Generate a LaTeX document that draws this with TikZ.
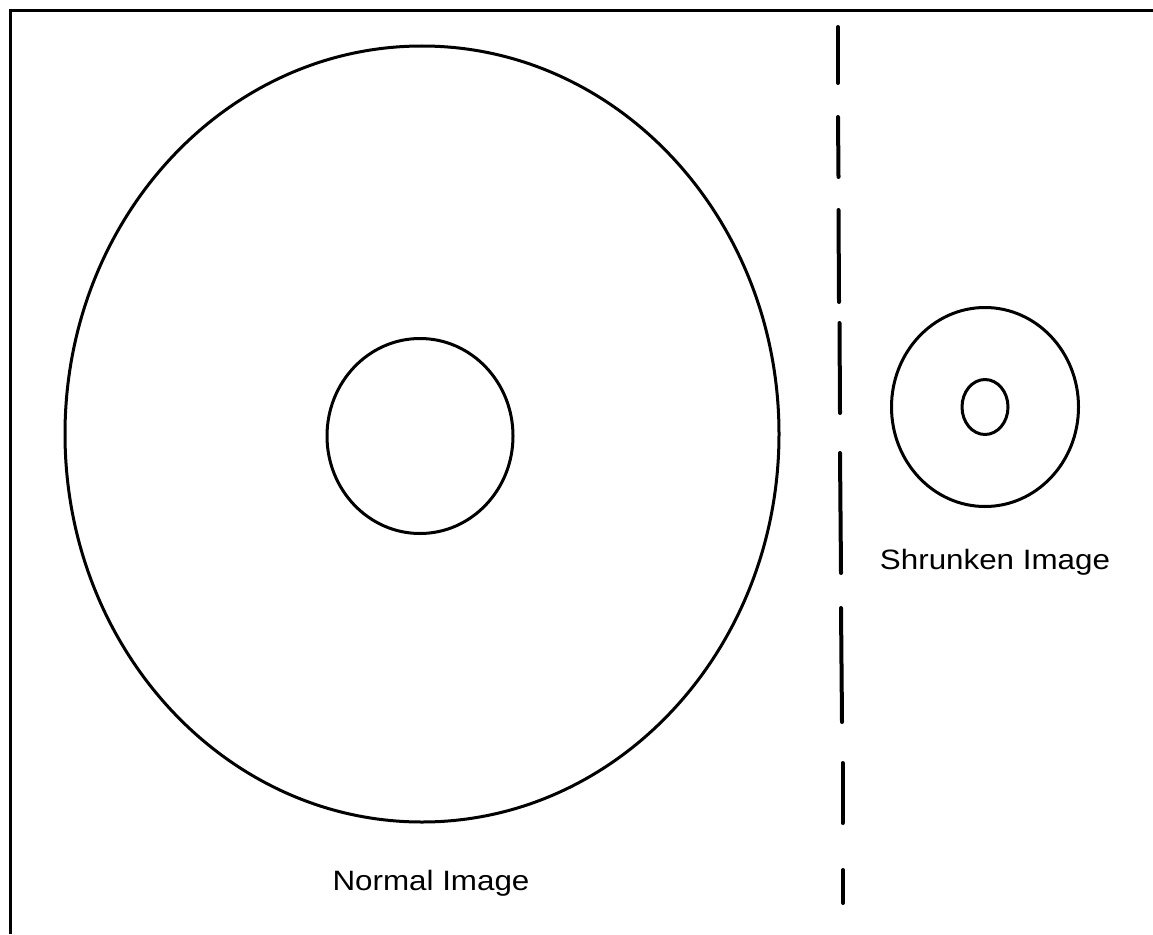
\documentclass[tikz,border=0pt]{standalone}
\usepackage{fontspec}
\setmainfont{Liberation Sans}
\newfontfamily\lblfont[FakeStretch=1.12]{Liberation Sans}
\usetikzlibrary{shapes.geometric}
\tikzset{
  ring/.style={draw, ellipse, inner sep=0pt, line width=3pt},
  frameline/.style={line width=3pt},
  dashseg/.style={line width=4pt, line cap=round},
  lbl/.style={font=\lblfont\fontsize{28}{30}\selectfont, inner sep=0pt}
}
\begin{document}
\begin{tikzpicture}[x=1pt,y=-1pt]
\useasboundingbox (0,0) rectangle (1153,934);
% frame (left and top only)
\draw[frameline] (10,934) -- (10,11) -- (1153,11);
% big image
\node[ring, minimum width=714pt, minimum height=776pt] (bigout) at (422,434) {};
\node[ring, minimum width=186pt, minimum height=195pt] (bigin) at (420,436) {};
% shrunken image
\node[ring, minimum width=187pt, minimum height=199pt] (smallout) at (985,407) {};
\node[ring, minimum width=46pt, minimum height=55pt] (smallin) at (985,407) {};
% dashed divider
\draw[dashseg] (838,27) -- (838,83);
\draw[dashseg] (838,117) -- (838.5,177);
\draw[dashseg] (838.5,210) -- (839,302);
\draw[dashseg] (839.5,323) -- (840,413);
\draw[dashseg] (840,453) -- (841,573);
\draw[dashseg] (841,608) -- (842,722);
\draw[dashseg] (842.5,763) -- (842.5,823);
\draw[dashseg] (843,870) -- (843,903);
% labels
\node[lbl] (normal) at (431,883) {Normal Image};
\node[lbl] (shrunk) at (995,562) {Shrunken Image};
\end{tikzpicture}
\end{document}
